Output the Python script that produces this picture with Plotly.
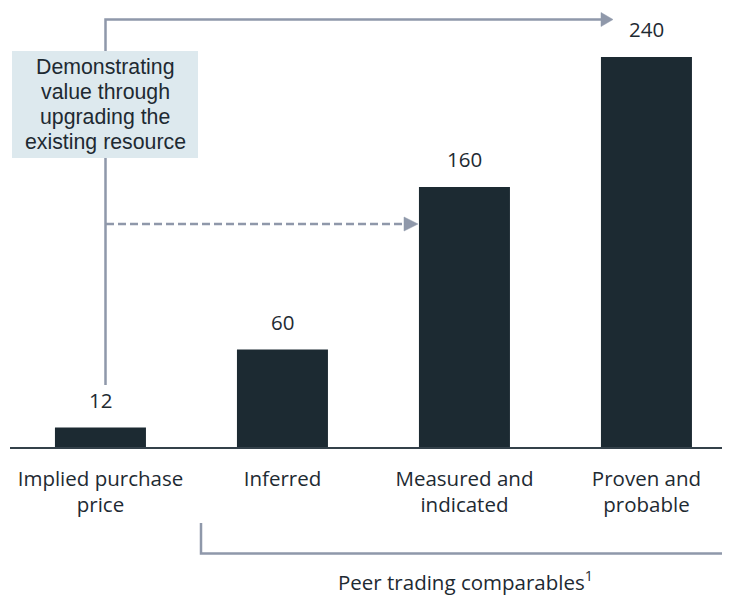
import plotly.graph_objects as go

categories = ["Implied purchase<br>price", "Inferred", "Measured and<br>indicated", "Proven and<br>probable"]
values = [12, 60, 160, 240]
value_labels = ["12", "60", "160", "240"]
box_lines = ["Demonstrating", "value through", "upgrading the", "existing resource"]
footnote = "Peer trading comparables<sup>1</sup>"

# page body has an 8px margin; figure is sized to fill the rest of the window
OFF = 8
W, H = 730 - OFF, 595 - OFF
ML, MR, MT, MB = 2, 0, 0, 148
PW, PH = W - ML - MR, H - MT - MB

BAR = "#1c2a32"
TXT = "#1e2a32"
GRAY = "#8f98aa"
BOX = "#dde9ee"
LABEL_FONT = "Open Sans"


def px(x):
    return (x - OFF - ML) / PW


def py(y):
    return (H - MB - (y - OFF)) / PH


xs = list(range(len(values)))
fig = go.Figure()
fig.add_trace(go.Bar(x=xs, y=values, width=0.5, marker=dict(color=BAR, line=dict(width=0)),
                     hoverinfo="skip"))

shapes = []
shapes.append(dict(type="path", xref="paper", yref="paper",
                   path=f"M {px(105.5)} {py(385)} L {px(105.5)} {py(19.5)} L {px(603)} {py(19.5)}",
                   line=dict(color=GRAY, width=2.5)))
shapes.append(dict(type="path", xref="paper", yref="paper",
                   path=f"M {px(601)} {py(12.5)} L {px(613)} {py(19.5)} L {px(601)} {py(26.5)} Z",
                   fillcolor=GRAY, line=dict(color=GRAY, width=0.5)))
shapes.append(dict(type="line", xref="paper", yref="paper",
                   x0=px(106), y0=py(224), x1=px(406), y1=py(224),
                   line=dict(color=GRAY, width=2.5, dash="8px,4px")))
shapes.append(dict(type="path", xref="paper", yref="paper",
                   path=f"M {px(404)} {py(217)} L {px(418)} {py(224)} L {px(404)} {py(231)} Z",
                   fillcolor=GRAY, line=dict(color=GRAY, width=0.5)))
shapes.append(dict(type="rect", xref="paper", yref="paper",
                   x0=px(12), y0=py(51), x1=px(198), y1=py(158),
                   fillcolor=BOX, line=dict(width=0)))
shapes.append(dict(type="path", xref="paper", yref="paper",
                   path=f"M {px(201)} {py(523)} L {px(201)} {py(553.5)} L {px(730)} {py(553.5)}",
                   line=dict(color=GRAY, width=2.5)))

annotations = []
for xi, v, t in zip(xs, values, value_labels):
    annotations.append(dict(x=xi, y=v, xref="x", yref="y", text=t, showarrow=False,
                            yanchor="bottom", yshift=12,
                            font=dict(family=LABEL_FONT, size=20.5, color=TXT)))
for i, line in enumerate(box_lines):
    annotations.append(dict(x=px(105), y=py(67 + 25 * i), xref="paper", yref="paper", text=line,
                            showarrow=False, xanchor="center", yanchor="middle",
                            font=dict(family="Liberation Sans", size=21.3, color=TXT)))
annotations.append(dict(x=px(465), y=py(581), xref="paper", yref="paper", text=footnote,
                        showarrow=False, xanchor="center", yanchor="middle",
                        font=dict(family=LABEL_FONT, size=20.5, color=TXT)))

fig.update_layout(
    width=W, height=H,
    margin=dict(l=ML, r=MR, t=MT, b=MB),
    paper_bgcolor="white", plot_bgcolor="white",
    showlegend=False,
    shapes=shapes,
    annotations=annotations,
    xaxis=dict(range=[-0.497, -0.497 + PW / 182.0], tickvals=xs, ticktext=categories,
               showgrid=False, zeroline=False, showline=True, linecolor="#34414a", linewidth=2,
               ticks="", ticklabelstandoff=12,
               tickfont=dict(family=LABEL_FONT, size=20.5, color=TXT), fixedrange=True),
    yaxis=dict(range=[0, PH / 1.625], visible=False, fixedrange=True),
)

fig.write_html("out.html")
